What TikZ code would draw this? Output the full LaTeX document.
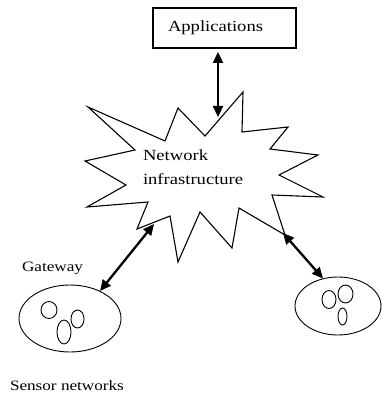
\documentclass[tikz,border=0pt]{standalone}
\usepackage{fontspec}
\setmainfont{Liberation Serif}[FakeStretch=1.2]
\usetikzlibrary{shapes.geometric,arrows.meta}
\begin{document}
\begin{tikzpicture}[x=1pt,y=-1pt,
  lbl/.style={inner sep=0pt, outer sep=0pt, anchor=base west, font=\fontsize{15.5}{24}\selectfont},
  small/.style={lbl, font=\fontsize{14.3}{17}\selectfont},
  arr/.style={line width=2.3pt, {Triangle[length=11pt,width=10pt]}-{Triangle[length=11pt,width=10pt]}},
  net/.style={draw, ellipse, line width=0.9pt, inner sep=0pt, outer sep=0pt},
  blob/.style={draw, line width=0.9pt},
  star/.style={draw, line width=1.1pt, line join=miter}]
\useasboundingbox (0,0) rectangle (381,393);
% applications box
\node[draw, line width=1.4pt, minimum width=143pt, minimum height=40pt, inner sep=0pt, outer sep=0pt, anchor=north west] (app) at (153,8) {};
\node[lbl] (apps) at (168,32) {Applications};
% star (network infrastructure)
\coordinate (s1) at (88,107);
\coordinate (s2) at (135,150);
\coordinate (s3) at (85,161);
\coordinate (s4) at (126,185);
\coordinate (s5) at (87,207);
\coordinate (s6) at (148,202);
\coordinate (s7) at (137,229);
\coordinate (s8) at (170,216);
\coordinate (s9) at (178,262);
\coordinate (s10) at (200,212);
\coordinate (s11) at (232,248);
\coordinate (s12) at (239,208);
\coordinate (s13) at (285,235);
\coordinate (s14) at (272,195);
\coordinate (s15) at (323,197);
\coordinate (s16) at (279,175);
\coordinate (s17) at (318,155);
\coordinate (s18) at (270,149);
\coordinate (s19) at (288,127);
\coordinate (s20) at (242,132);
\coordinate (s21) at (243,92);
\coordinate (s22) at (205,136);
\coordinate (s23) at (178,108);
\coordinate (s24) at (165,141);
\draw[star] (s1) -- (s2) -- (s3) -- (s4) -- (s5) -- (s6) -- (s7) -- (s8) -- (s9) -- (s10) -- (s11) -- (s12) -- (s13) -- (s14) -- (s15) -- (s16) -- (s17) -- (s18) -- (s19) -- (s20) -- (s21) -- (s22) -- (s23) -- (s24) -- cycle;
\node[lbl, align=left, anchor=north west] (netlbl) at (143,150) {Network\\infrastructure};
% sensor networks
\node[net, minimum width=102pt, minimum height=67pt] (lnet) at (70,318.5) {};
\node[net, minimum width=86pt, minimum height=58pt] (rnet) at (338,306) {};
\draw[blob] (49,310) ellipse [x radius=8, y radius=8.5];
\draw[blob] (64,332) ellipse [x radius=7, y radius=12];
\draw[blob] (77.5,319) ellipse [x radius=6.5, y radius=9];
\draw[blob] (329,299.5) ellipse [x radius=7, y radius=9];
\draw[blob] (345.5,294) ellipse [x radius=7.5, y radius=9];
\draw[blob] (342.5,316.5) ellipse [x radius=4.5, y radius=8.5];
\node[small] (gw) at (22,271) {Gateway};
\node[small] (sn) at (10,390) {Sensor networks};
% connectors
\coordinate (a0) at (218,52);
\coordinate (a1) at (218,117);
\coordinate (lg) at (100,291);
\coordinate (ls) at (154,224);
\coordinate (rs) at (283,233);
\coordinate (rg) at (323,278.5);
\draw[arr] (a0) -- (a1);
\draw[arr] (lg) -- (ls);
\draw[arr] (rs) -- (rg);
\end{tikzpicture}
\end{document}
